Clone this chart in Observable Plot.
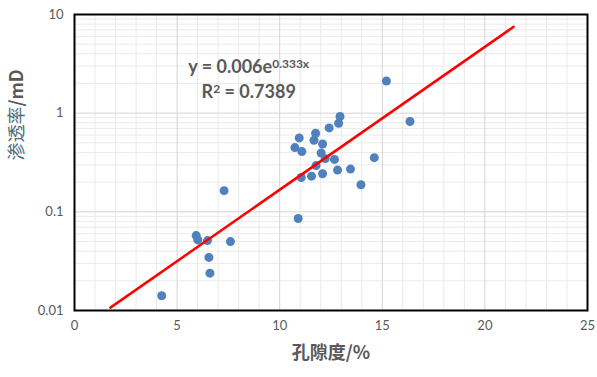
<!DOCTYPE html>
<html><head><meta charset="utf-8">
<script src="https://cdn.jsdelivr.net/npm/d3@7"></script>
<script src="https://cdn.jsdelivr.net/npm/@observablehq/plot@0.6"></script>
<style>body{margin:0;background:#fff} svg{display:block}</style>
</head><body><div id="chart"></div>
<script>
// Data
const porosity = [4.25, 5.93, 6.01, 6.48, 6.55, 6.60, 7.29, 7.60, 10.90, 10.74, 10.95, 11.08, 11.05, 11.55, 11.67, 11.75, 11.77, 12.02, 12.09, 12.09, 12.22, 12.41, 12.67, 12.82, 12.87, 12.94, 13.45, 13.96, 14.61, 15.20, 16.35];
const permeability = [0.0141, 0.0574, 0.0519, 0.0511, 0.0345, 0.0239, 0.164, 0.0499, 0.0855, 0.448, 0.561, 0.408, 0.223, 0.230, 0.531, 0.626, 0.294, 0.395, 0.487, 0.243, 0.346, 0.709, 0.340, 0.265, 0.791, 0.925, 0.271, 0.188, 0.354, 2.12, 0.823];
const trendPorosity = [1.75, 21.4];
const trendPermeability = [0.0107, 7.5];
const xTicks = [0, 5, 10, 15, 20, 25];
const xMajorGrid = [5, 10, 15, 20];
const xMinorGrid = [1,2,3,4,6,7,8,9,11,12,13,14,16,17,18,19,21,22,23,24];
const yTicks = [0.01, 0.1, 1, 10];
const yTickLabels = ["0.01", "0.1", "1", "10"];
const yMajorGrid = [0.1, 1];
const yMinorGrid = [0.02,0.03,0.04,0.05,0.06,0.07,0.08,0.09,0.2,0.3,0.4,0.5,0.6,0.7,0.8,0.9,2,3,4,5,6,7,8,9];
const xTitle = "孔隙度/%";
const yTitleMain = "渗透率";
const yTitleUnit = "/mD";
const eqBase = "y = 0.006e";
const eqExp = "0.333x";
const r2Value = "0.7389";

const points = porosity.map((x, i) => ({x, y: permeability[i]}));
const trend = trendPorosity.map((x, i) => ({x, y: trendPermeability[i]}));

const gray = "#595959";
const chart = Plot.plot({
  width: 597, height: 377,
  marginLeft: 74, marginRight: 10, marginTop: 14, marginBottom: 67,
  style: {fontFamily: "Lato, 'Liberation Sans', sans-serif", fontSize: "13px", color: gray, background: "white"},
  x: {domain: [0, 25]},
  y: {type: "log", domain: [0.01, 10]},
  marks: [
    Plot.gridX(xMinorGrid, {stroke: "#eaeaea", strokeOpacity: 1}),
    Plot.gridY(yMinorGrid, {stroke: "#eaeaea", strokeOpacity: 1}),
    Plot.gridX(xMajorGrid, {stroke: "#d4d4d4", strokeOpacity: 1}),
    Plot.gridY(yMajorGrid, {stroke: "#d4d4d4", strokeOpacity: 1}),
    Plot.axisX(xTicks, {tickSize: 0, tickPadding: 10, fill: gray, label: null, fontSize: 13}),
    Plot.axisY(yTicks, {tickSize: 0, tickPadding: 11, fill: gray, label: null, fontSize: 13,
      tickFormat: d => yTickLabels[yTicks.indexOf(d)]}),
    Plot.dot(points, {x: "x", y: "y", r: 4.5, fill: "#4f81bd", stroke: null}),
    Plot.line(trend, {x: "x", y: "y", stroke: "#ff0000", strokeWidth: 2.5}),
    Plot.frame({stroke: "black", strokeWidth: 2}),
    Plot.text([xTitle], {frameAnchor: "bottom", dy: 48, text: d => d, fontSize: 18, fontWeight: "bold",
      fill: gray, fontFamily: "'Noto Sans CJK SC', sans-serif", className: "xtitle"}),
    Plot.text([yTitleMain + yTitleUnit], {frameAnchor: "left", dx: -57, dy: -2, rotate: -90, text: d => d, fontSize: 18,
      fontWeight: "bold", fill: gray, fontFamily: "'Noto Sans CJK SC', sans-serif", className: "ytitle"}),
    Plot.text([eqBase], {x: 8.49, y: 2.92, text: d => d, fontSize: 18, fontWeight: "bold", fill: gray, className: "eq1"}),
    Plot.text([r2Value], {x: 8.49, y: 1.63, text: d => d, fontSize: 18, fontWeight: "bold", fill: gray, className: "eq2"})
  ]
});
document.getElementById("chart").appendChild(chart);

const svg = d3.select(chart);
// y title: two colours
const yt = svg.select("g.ytitle text");
yt.text(null);
yt.append("tspan").attr("fill", "#4d6e7e").style("font-weight", "normal").text(yTitleMain);
yt.append("tspan").text(yTitleUnit);
// equation superscript
const e1 = svg.select("g.eq1 text");
e1.text(null);
e1.append("tspan").text(eqBase);
e1.append("tspan").attr("dy", "-0.45em").attr("font-size", 12).text(eqExp);
const e2 = svg.select("g.eq2 text");
e2.text(null);
e2.append("tspan").text("R");
e2.append("tspan").attr("dy", "-0.45em").attr("font-size", 12).text("2");
e2.append("tspan").attr("dy", "0.3em").text(" = " + r2Value);
</script>
</body></html>
